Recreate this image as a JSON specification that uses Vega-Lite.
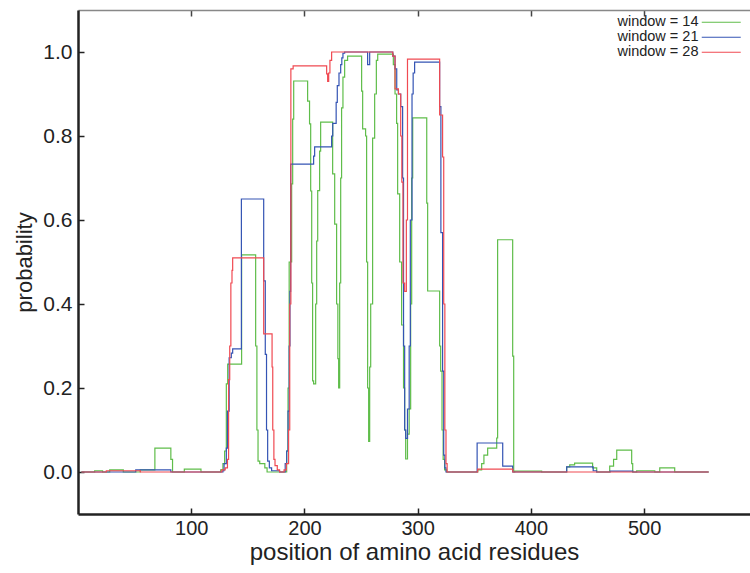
{
  "$schema": "https://vega.github.io/schema/vega-lite/v6.json",
  "width": 672,
  "height": 504,
  "autosize": {"type": "none"},
  "padding": {"left": 78, "top": 10, "right": 0, "bottom": 59},
  "background": "white",
  "config": {
    "view": {"stroke": null},
    "font": "Liberation Sans",
    "axis": {"labelFont": "Liberation Sans", "titleFont": "Liberation Sans", "labelColor": "#222", "titleColor": "#222", "titleFontWeight": "normal", "grid": false}
  },
  "data": {"values": [
    {"w": "window = 14", "x": 3, "y": 0},
    {"w": "window = 14", "x": 14.7, "y": 0.003},
    {"w": "window = 14", "x": 21.7, "y": 0},
    {"w": "window = 14", "x": 28, "y": 0.005},
    {"w": "window = 14", "x": 40, "y": 0},
    {"w": "window = 14", "x": 55, "y": 0.005},
    {"w": "window = 14", "x": 67.9, "y": 0.057},
    {"w": "window = 14", "x": 82, "y": 0.03},
    {"w": "window = 14", "x": 83.5, "y": 0.0},
    {"w": "window = 14", "x": 93.9, "y": 0.007},
    {"w": "window = 14", "x": 108.6, "y": 0},
    {"w": "window = 14", "x": 126, "y": 0.005},
    {"w": "window = 14", "x": 128, "y": 0.02},
    {"w": "window = 14", "x": 129.5, "y": 0.05},
    {"w": "window = 14", "x": 131, "y": 0.21},
    {"w": "window = 14", "x": 132.2, "y": 0.257},
    {"w": "window = 14", "x": 144.5, "y": 0.517},
    {"w": "window = 14", "x": 156.9, "y": 0.3},
    {"w": "window = 14", "x": 158, "y": 0.1},
    {"w": "window = 14", "x": 159, "y": 0.026},
    {"w": "window = 14", "x": 160.5, "y": 0.02},
    {"w": "window = 14", "x": 165, "y": 0.01},
    {"w": "window = 14", "x": 167, "y": 0},
    {"w": "window = 14", "x": 184.3, "y": 0.05},
    {"w": "window = 14", "x": 185.5, "y": 0.2},
    {"w": "window = 14", "x": 186.5, "y": 0.5},
    {"w": "window = 14", "x": 188.7, "y": 0.686},
    {"w": "window = 14", "x": 189.6, "y": 0.84},
    {"w": "window = 14", "x": 190.5, "y": 0.931},
    {"w": "window = 14", "x": 202.8, "y": 0.883},
    {"w": "window = 14", "x": 204.5, "y": 0.829},
    {"w": "window = 14", "x": 205.5, "y": 0.669},
    {"w": "window = 14", "x": 206.4, "y": 0.45},
    {"w": "window = 14", "x": 207.2, "y": 0.217},
    {"w": "window = 14", "x": 208.1, "y": 0.21},
    {"w": "window = 14", "x": 209.9, "y": 0.4},
    {"w": "window = 14", "x": 210.8, "y": 0.55},
    {"w": "window = 14", "x": 211.7, "y": 0.67},
    {"w": "window = 14", "x": 213.4, "y": 0.764},
    {"w": "window = 14", "x": 214.3, "y": 0.833},
    {"w": "window = 14", "x": 224.9, "y": 0.71},
    {"w": "window = 14", "x": 226.7, "y": 0.59},
    {"w": "window = 14", "x": 228.4, "y": 0.4},
    {"w": "window = 14", "x": 229.5, "y": 0.27},
    {"w": "window = 14", "x": 230.2, "y": 0.2},
    {"w": "window = 14", "x": 231.1, "y": 0.45},
    {"w": "window = 14", "x": 232, "y": 0.7},
    {"w": "window = 14", "x": 232.8, "y": 0.867},
    {"w": "window = 14", "x": 234, "y": 0.94},
    {"w": "window = 14", "x": 235.5, "y": 0.98},
    {"w": "window = 14", "x": 238.1, "y": 0.99},
    {"w": "window = 14", "x": 250.5, "y": 0.907},
    {"w": "window = 14", "x": 251.4, "y": 0.817},
    {"w": "window = 14", "x": 254, "y": 0.8},
    {"w": "window = 14", "x": 254.9, "y": 0.5},
    {"w": "window = 14", "x": 255.8, "y": 0.2},
    {"w": "window = 14", "x": 256.7, "y": 0.073},
    {"w": "window = 14", "x": 257.6, "y": 0.25},
    {"w": "window = 14", "x": 258.5, "y": 0.4},
    {"w": "window = 14", "x": 260.2, "y": 0.795},
    {"w": "window = 14", "x": 262, "y": 0.9},
    {"w": "window = 14", "x": 263.5, "y": 0.98},
    {"w": "window = 14", "x": 264.7, "y": 0.995},
    {"w": "window = 14", "x": 278.5, "y": 0.97},
    {"w": "window = 14", "x": 280, "y": 0.9},
    {"w": "window = 14", "x": 281.4, "y": 0.83},
    {"w": "window = 14", "x": 282.3, "y": 0.662},
    {"w": "window = 14", "x": 284.1, "y": 0.5},
    {"w": "window = 14", "x": 285.8, "y": 0.35},
    {"w": "window = 14", "x": 287.5, "y": 0.2},
    {"w": "window = 14", "x": 288.5, "y": 0.1},
    {"w": "window = 14", "x": 289.4, "y": 0.031},
    {"w": "window = 14", "x": 291, "y": 0.09},
    {"w": "window = 14", "x": 292.5, "y": 0.15},
    {"w": "window = 14", "x": 293.8, "y": 0.4},
    {"w": "window = 14", "x": 294.7, "y": 0.7},
    {"w": "window = 14", "x": 295.6, "y": 0.843},
    {"w": "window = 14", "x": 308, "y": 0.64},
    {"w": "window = 14", "x": 308.8, "y": 0.431},
    {"w": "window = 14", "x": 319.4, "y": 0.3},
    {"w": "window = 14", "x": 320.3, "y": 0.24},
    {"w": "window = 14", "x": 321.5, "y": 0.1},
    {"w": "window = 14", "x": 322.5, "y": 0.03},
    {"w": "window = 14", "x": 323.8, "y": 0.005},
    {"w": "window = 14", "x": 325.6, "y": 0},
    {"w": "window = 14", "x": 353, "y": 0.005},
    {"w": "window = 14", "x": 356.5, "y": 0.02},
    {"w": "window = 14", "x": 358.5, "y": 0.04},
    {"w": "window = 14", "x": 361.8, "y": 0.057},
    {"w": "window = 14", "x": 369.8, "y": 0.081},
    {"w": "window = 14", "x": 370.6, "y": 0.553},
    {"w": "window = 14", "x": 383.9, "y": 0.276},
    {"w": "window = 14", "x": 384.8, "y": 0},
    {"w": "window = 14", "x": 385.7, "y": 0.002},
    {"w": "window = 14", "x": 409.5, "y": 0},
    {"w": "window = 14", "x": 431.6, "y": 0.012},
    {"w": "window = 14", "x": 434.3, "y": 0.017},
    {"w": "window = 14", "x": 438.6, "y": 0.021},
    {"w": "window = 14", "x": 454.5, "y": 0.01},
    {"w": "window = 14", "x": 458.1, "y": 0},
    {"w": "window = 14", "x": 469.6, "y": 0.014},
    {"w": "window = 14", "x": 473, "y": 0.03},
    {"w": "window = 14", "x": 475.8, "y": 0.052},
    {"w": "window = 14", "x": 489, "y": 0.02},
    {"w": "window = 14", "x": 489.9, "y": 0},
    {"w": "window = 14", "x": 493.4, "y": 0.003},
    {"w": "window = 14", "x": 509.4, "y": 0},
    {"w": "window = 14", "x": 513.8, "y": 0.01},
    {"w": "window = 14", "x": 527, "y": 0},
    {"w": "window = 14", "x": 557, "y": 0},

    {"w": "window = 21", "x": 3, "y": 0},
    {"w": "window = 21", "x": 51, "y": 0.005},
    {"w": "window = 21", "x": 82, "y": 0},
    {"w": "window = 21", "x": 128, "y": 0.003},
    {"w": "window = 21", "x": 129, "y": 0.02},
    {"w": "window = 21", "x": 131, "y": 0.057},
    {"w": "window = 21", "x": 132, "y": 0.145},
    {"w": "window = 21", "x": 133.5, "y": 0.272},
    {"w": "window = 21", "x": 135.4, "y": 0.283},
    {"w": "window = 21", "x": 136.6, "y": 0.293},
    {"w": "window = 21", "x": 144.3, "y": 0.65},
    {"w": "window = 21", "x": 164, "y": 0.455},
    {"w": "window = 21", "x": 165.4, "y": 0.28},
    {"w": "window = 21", "x": 166.5, "y": 0.1},
    {"w": "window = 21", "x": 167.5, "y": 0.026},
    {"w": "window = 21", "x": 169, "y": 0.01},
    {"w": "window = 21", "x": 171, "y": 0.003},
    {"w": "window = 21", "x": 178, "y": 0},
    {"w": "window = 21", "x": 183, "y": 0.02},
    {"w": "window = 21", "x": 184.3, "y": 0.05},
    {"w": "window = 21", "x": 185.5, "y": 0.145},
    {"w": "window = 21", "x": 186.5, "y": 0.3},
    {"w": "window = 21", "x": 187.2, "y": 0.43},
    {"w": "window = 21", "x": 187.8, "y": 0.733},
    {"w": "window = 21", "x": 208.1, "y": 0.752},
    {"w": "window = 21", "x": 209, "y": 0.774},
    {"w": "window = 21", "x": 224, "y": 0.8},
    {"w": "window = 21", "x": 225, "y": 0.83},
    {"w": "window = 21", "x": 228, "y": 0.88},
    {"w": "window = 21", "x": 229, "y": 0.92},
    {"w": "window = 21", "x": 230.5, "y": 0.95},
    {"w": "window = 21", "x": 232, "y": 0.97},
    {"w": "window = 21", "x": 233, "y": 0.986},
    {"w": "window = 21", "x": 234, "y": 0.997},
    {"w": "window = 21", "x": 235.5, "y": 1.0},
    {"w": "window = 21", "x": 255.8, "y": 0.97},
    {"w": "window = 21", "x": 257.6, "y": 1.0},
    {"w": "window = 21", "x": 278, "y": 0.99},
    {"w": "window = 21", "x": 280, "y": 0.96},
    {"w": "window = 21", "x": 281.5, "y": 0.91},
    {"w": "window = 21", "x": 283, "y": 0.9},
    {"w": "window = 21", "x": 285, "y": 0.87},
    {"w": "window = 21", "x": 286.7, "y": 0.7},
    {"w": "window = 21", "x": 287.5, "y": 0.3},
    {"w": "window = 21", "x": 288.5, "y": 0.1},
    {"w": "window = 21", "x": 289.4, "y": 0.08},
    {"w": "window = 21", "x": 291, "y": 0.15},
    {"w": "window = 21", "x": 292.5, "y": 0.3},
    {"w": "window = 21", "x": 293.5, "y": 0.6},
    {"w": "window = 21", "x": 295, "y": 0.9},
    {"w": "window = 21", "x": 296, "y": 0.95},
    {"w": "window = 21", "x": 297.3, "y": 0.976},
    {"w": "window = 21", "x": 319.4, "y": 0.87},
    {"w": "window = 21", "x": 320.5, "y": 0.57},
    {"w": "window = 21", "x": 322, "y": 0.24},
    {"w": "window = 21", "x": 323, "y": 0.04},
    {"w": "window = 21", "x": 324, "y": 0.01},
    {"w": "window = 21", "x": 325, "y": 0},
    {"w": "window = 21", "x": 352.5, "y": 0.069},
    {"w": "window = 21", "x": 375.1, "y": 0.014},
    {"w": "window = 21", "x": 383.9, "y": 0},
    {"w": "window = 21", "x": 431.6, "y": 0.012},
    {"w": "window = 21", "x": 455, "y": 0.003},
    {"w": "window = 21", "x": 458, "y": 0},
    {"w": "window = 21", "x": 470, "y": 0.002},
    {"w": "window = 21", "x": 490, "y": 0},
    {"w": "window = 21", "x": 557, "y": 0},

    {"w": "window = 28", "x": 3, "y": 0},
    {"w": "window = 28", "x": 25, "y": 0.003},
    {"w": "window = 28", "x": 55, "y": 0},
    {"w": "window = 28", "x": 127, "y": 0.005},
    {"w": "window = 28", "x": 130, "y": 0.01},
    {"w": "window = 28", "x": 132, "y": 0.03},
    {"w": "window = 28", "x": 133, "y": 0.22},
    {"w": "window = 28", "x": 134, "y": 0.3},
    {"w": "window = 28", "x": 135, "y": 0.45},
    {"w": "window = 28", "x": 136, "y": 0.48},
    {"w": "window = 28", "x": 136.6, "y": 0.51},
    {"w": "window = 28", "x": 164, "y": 0.329},
    {"w": "window = 28", "x": 171.4, "y": 0.25},
    {"w": "window = 28", "x": 172, "y": 0.1},
    {"w": "window = 28", "x": 173, "y": 0.03},
    {"w": "window = 28", "x": 174, "y": 0.015},
    {"w": "window = 28", "x": 176, "y": 0.005},
    {"w": "window = 28", "x": 178, "y": 0},
    {"w": "window = 28", "x": 182, "y": 0.005},
    {"w": "window = 28", "x": 184, "y": 0.02},
    {"w": "window = 28", "x": 186, "y": 0.1},
    {"w": "window = 28", "x": 187, "y": 0.4},
    {"w": "window = 28", "x": 188, "y": 0.96},
    {"w": "window = 28", "x": 190, "y": 0.967},
    {"w": "window = 28", "x": 219.6, "y": 0.948},
    {"w": "window = 28", "x": 220.5, "y": 0.93},
    {"w": "window = 28", "x": 221.4, "y": 0.95},
    {"w": "window = 28", "x": 222.5, "y": 0.98},
    {"w": "window = 28", "x": 224, "y": 1.0},
    {"w": "window = 28", "x": 278, "y": 0.99},
    {"w": "window = 28", "x": 280, "y": 0.912},
    {"w": "window = 28", "x": 283, "y": 0.9},
    {"w": "window = 28", "x": 285, "y": 0.8},
    {"w": "window = 28", "x": 286, "y": 0.69},
    {"w": "window = 28", "x": 287, "y": 0.45},
    {"w": "window = 28", "x": 288.5, "y": 0.43},
    {"w": "window = 28", "x": 290, "y": 0.6},
    {"w": "window = 28", "x": 291, "y": 0.983},
    {"w": "window = 28", "x": 319.4, "y": 0.85},
    {"w": "window = 28", "x": 322, "y": 0.75},
    {"w": "window = 28", "x": 323, "y": 0.4},
    {"w": "window = 28", "x": 324, "y": 0.1},
    {"w": "window = 28", "x": 325, "y": 0.02},
    {"w": "window = 28", "x": 326, "y": 0},
    {"w": "window = 28", "x": 353, "y": 0.007},
    {"w": "window = 28", "x": 384, "y": 0},
    {"w": "window = 28", "x": 557, "y": 0}
  ]},
  "layer": [
    {
      "mark": {"type": "line", "interpolate": "step-after", "strokeWidth": 1.2},
      "encoding": {
        "x": {"field": "x", "type": "quantitative", "scale": {"domain": [0, 593.5], "nice": false, "zero": false},
          "axis": {"orient": "bottom", "title": "position of amino acid residues", "values": [100, 200, 300, 400, 500],
            "tickSize": -6, "tickColor": "#222", "tickWidth": 1.5, "labelPadding": 10, "labelFontSize": 20,
            "domainColor": "#222", "domainWidth": 2.5, "titleFontSize": 24, "titlePadding": 2}},
        "y": {"field": "y", "type": "quantitative", "scale": {"domain": [-0.1, 1.1], "nice": false, "zero": false},
          "axis": {"title": "probability", "values": [0, 0.2, 0.4, 0.6, 0.8, 1.0], "format": ".1f",
            "tickSize": -6, "tickColor": "#222", "tickWidth": 1.5, "labelPadding": 12, "labelFontSize": 21,
            "domainColor": "#222", "domainWidth": 2.5, "titleFontSize": 22, "titlePadding": 6}},
        "color": {"field": "w", "type": "nominal",
          "scale": {"domain": ["window = 14", "window = 21", "window = 28"], "range": ["#5fbd4a", "#3454b4", "#f04a52"]},
          "legend": {"title": null, "orient": "none", "legendX": 636, "legendY": 5, "direction": "vertical",
            "symbolType": "M-4,0H4", "symbolSize": 95, "symbolStrokeWidth": 1.2, "symbolFillColor": "transparent",
            "labelAlign": "right", "labelOffset": -30, "labelFontSize": 14.5, "labelFont": "Liberation Sans", "labelColor": "#222",
            "rowPadding": 0, "padding": 0}}
      }
    },
    {
      "mark": {"type": "rule", "opacity": 0},
      "encoding": {
        "x": {"aggregate": "min", "field": "x", "type": "quantitative",
          "axis": {"orient": "top", "title": null, "labels": false, "values": [100, 200, 300, 400, 500],
            "tickSize": -6, "tickColor": "#444", "tickWidth": 1.5, "domainColor": "#888", "domainWidth": 1.5}}
      }
    }
  ],
  "resolve": {"axis": {"x": "independent"}}
}
